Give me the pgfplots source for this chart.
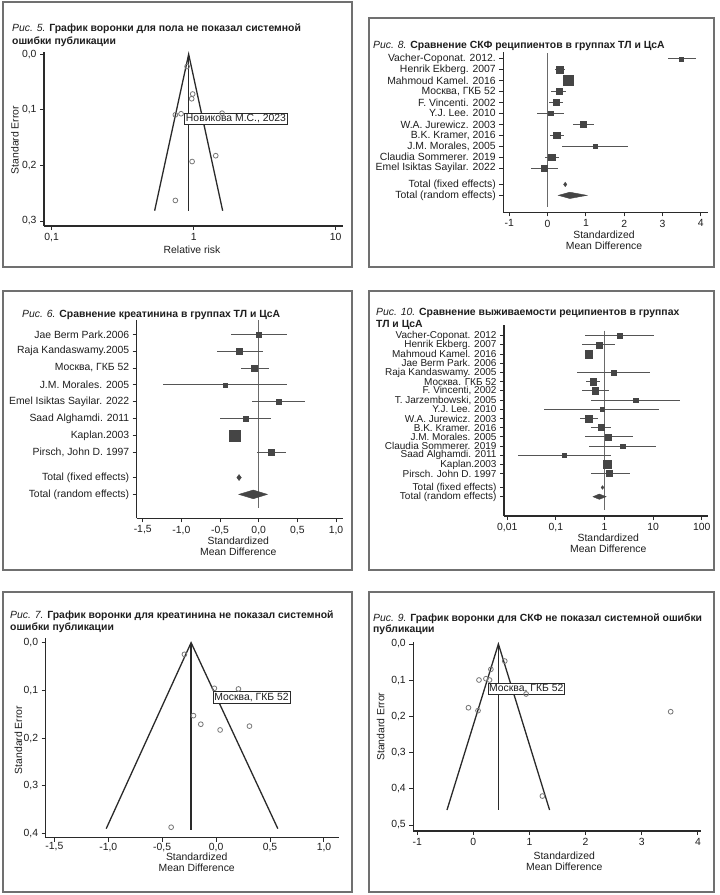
\documentclass[border=0pt]{standalone}
\usepackage{fontspec}
\setmainfont{Liberation Sans}
\usepackage{pgfplots}
\usepackage{pgfplotstable}
\pgfplotsset{compat=1.18}

\definecolor{tx}{HTML}{1E1E1E}
\definecolor{ax}{HTML}{2A2A2A}
\definecolor{boxc}{HTML}{707070}
\definecolor{sq}{HTML}{454545}
\definecolor{cic}{HTML}{555555}
\definecolor{refc}{HTML}{6A6A6A}
\definecolor{ptc}{HTML}{777777}

\newcommand\fs{\fontsize{10.4}{11}\selectfont}
\newcommand\sfs{\fontsize{10}{11}\selectfont}
\newcommand\tfs{\fontsize{10.4}{12.5}\selectfont}

% forest plots: row, estimate, CI low, CI high, half side of square
\pgfplotstableread{
r m lo hi s
1 3.50 3.15 3.87 2.0
2 0.32 0.19 0.45 3.4
3 0.54 0.42 0.66 5.0
4 0.29 0.10 0.48 3.0
5 0.22 0.03 0.40 3.0
6 0.08 -0.29 0.43 2.3
7 0.94 0.67 1.22 3.0
8 0.23 0.06 0.43 3.4
9 1.24 0.38 2.10 1.8
10 0.11 -0.07 0.30 3.2
11 -0.09 -0.43 0.27 3.0
}\skf

\pgfplotstableread{
r m lo hi s
1 0.00 -0.36 0.363 2.6
2 -0.25 -0.543 0.06 2.8
3 -0.055 -0.232 0.13 3.0
4 -0.431 -1.233 0.363 2.0
5 0.26 -0.085 0.60 2.3
6 -0.168 -0.50 0.156 2.3
7 -0.315 -0.34 -0.29 5.5
8 0.16 -0.025 0.354 3.0
}\kreat

\pgfplotstableread{
r m lo hi s
1 2.04 0.39 10.3 2.3
2 0.76 0.345 1.63 3.0
3 0.47 0.39 0.57 3.8
5 1.55 0.27 8.8 2.3
6 0.58 0.42 0.81 3.3
7 0.64 0.34 1.23 3.3
8 4.35 0.53 36.6 2.3
9 0.89 0.058 13.1 1.8
10 0.476 0.32 0.73 3.5
11 0.85 0.53 1.37 3.0
12 1.19 0.39 3.88 3.0
13 2.38 0.49 11.7 2.3
14 0.146 0.0166 1.37 2.0
15 1.13 1.05 1.21 3.8
16 1.27 0.52 3.3 3.0
}\surv

% funnel plots: effect, standard error
\pgfplotstableread{
x se
0.899 0.022
0.984 0.0715
0.968 0.080
0.743 0.109
0.815 0.107
1.585 0.106
1.43 0.1825
0.975 0.193
0.743 0.263
}\fsex

\pgfplotstableread{
x se
-0.294 0.0244
-0.016 0.0957
0.207 0.097
-0.21 0.153
-0.142 0.171
0.037 0.183
0.309 0.175
-0.417 0.387
}\fkreat

\pgfplotstableread{
x se
0.559 0.047
0.312 0.0699
0.100 0.0994
0.224 0.0958
0.288 0.0994
0.94 0.138
-0.088 0.176
0.083 0.184
3.515 0.187
1.229 0.42
}\fskf

\pgfplotsset{
  panel/.style={scale only axis, anchor=south west,
    axis x line*=bottom, axis y line*=left,
    tick align=outside, major tick length=4pt,
    xminorticks=false, yminorticks=false,
    axis line style={ax, line width=1.3pt},
    tick style={ax, line width=1pt},
    ticklabel style={font=\fs, text=tx},
    clip=false},
  fplot/.style={only marks, mark=square*, scatter,
    visualization depends on={\thisrow{s}\as\ms},
    scatter/use mapped color={draw=sq, fill=sq},
    scatter/@pre marker code/.append style={/tikz/mark size=\ms},
    error bars/.cd, x dir=both, x explicit, error mark=none,
    error bar style={cic, line width=1pt, solid}},
  funnel/.style={ax, line width=1.3pt, mark=none},
  dots/.style={only marks, mark=o, mark size=2.4pt, ptc, mark options={line width=0.8pt}},
}
\tikzset{lbl/.style={draw=ax, fill=white, line width=0.6pt, inner sep=1.3pt, font=\fs, text=tx},
  ttl/.style={anchor=base west, font=\tfs, text=tx, inner sep=0pt},
  alab/.style={font=\fs, text=tx, align=center}}
\newcommand\figcap[2]{{\itshape #1} {\bfseries #2}}

\begin{document}
\begin{tikzpicture}[x=1pt, y=1pt]
\path[use as bounding box] (0,0) rectangle (720,-895);
\fill[white] (0,0) rectangle (720,-895);

% frames
\begin{scope}[draw=boxc, line width=1.2pt]
\draw (3,-2) rectangle (352,-267);
\draw (369,-18) rectangle (714,-267);
\draw (3,-291) rectangle (352,-570);
\draw (369,-291) rectangle (714,-570);
\draw (3,-592) rectangle (352,-892);
\draw (369,-592) rectangle (714,-892);
\end{scope}

% ---------- Рис. 5 ----------
\node[ttl] at (12,-31.5) {\figcap{Рис. 5.}{График воронки для пола не показал системной}};
\node[ttl] at (12,-44.5) {\bfseries ошибки публикации};
\begin{axis}[panel, at={(44pt,-226pt)}, width=299pt, height=174pt,
  xmode=log, xmin=0.0883, xmax=11.26, ymin=-0.309, ymax=0.0041,
  xtick={0.1,1,10}, xticklabels={{0,1},1,10},
  ytick={-0.3,-0.2,-0.1,0}, yticklabels={{0,3},{0,2},{0,1},{0,0}}]
\addplot[funnel] coordinates {(0.531,-0.2815) (0.922,0) (1.6,-0.2815)};
\addplot[funnel] coordinates {(0.922,0) (0.922,-0.2815)};
\addplot[dots] table[x=x, y expr=-\thisrow{se}] \fsex;
\node[lbl, anchor=west] at (axis cs:0.86,-0.1165) {Новикова М.С., 2023};
\end{axis}
\node[alab] at (192,-250) {Relative risk};
\node[alab, rotate=90] at (15,-140) {Standard Error};

% ---------- Рис. 8 ----------
\node[ttl] at (373,-48.5) {\figcap{Рис. 8.}{Сравнение СКФ реципиентов в группах ТЛ и ЦсА}};
\begin{axis}[panel, at={(503.3pt,-212.3pt)}, width=204.4pt, height=160.6pt,
  xmin=-1.157, xmax=4.18, ymin=-15.05, ymax=-0.36,
  xtick={-1,0,1,2,3,4}, xticklabels={-1,0,1,2,3,4},
  ytick={-1,-2,-3,-4,-5,-6,-7,-8,-9,-10,-11,-12.5,-13.5},
  yticklabels={{Vacher-Coponat. 2012.},{Henrik Ekberg. 2007},{Mahmoud Kamel. 2016},{Москва, ГКБ 52},{F. Vincenti. 2002},{Y.J. Lee. 2010},{W.A. Jurewicz. 2003},{B.K. Kramer, 2016},{J.M. Morales, 2005},{Claudia Sommerer. 2019},{Emel Isiktas Sayilar. 2022},{Total (fixed effects)},{Total (random effects)}}]
\addplot[refc, line width=1.2pt] coordinates {(0,-0.48) (0,-14.57)};
\addplot[fplot] table[x=m, y expr=-\thisrow{r}, x error plus expr=\thisrow{hi}-\thisrow{m}, x error minus expr=\thisrow{m}-\thisrow{lo}] \skf;
\addplot[only marks, mark=diamond*, mark size=2.2pt, sq] coordinates {(0.46,-12.5)};
\addplot[fill=sq, draw=sq] coordinates {(0.28,-13.5) (0.58,-13.21) (1.03,-13.5) (0.58,-13.79)} -- cycle;
\end{axis}
\node[alab] at (604,-240.5) {Standardized\\Mean Difference};

% ---------- Рис. 6 ----------
\node[ttl] at (22,-317) {\figcap{Рис. 6.}{Сравнение креатинина в группах ТЛ и ЦсА}};
\begin{axis}[panel, at={(136.7pt,-518.3pt)}, width=206.6pt, height=198.3pt,
  xmin=-1.578, xmax=1.094, ymin=-11.92, ymax=-0.15,
  xtick={-1.5,-1,-0.5,0,0.5,1}, xticklabels={{-1,5},{-1,0},{-0,5},{0,0},{0,5},{1,0}},
  ytick={-1,-2,-3,-4,-5,-6,-7,-8,-9.5,-10.5},
  yticklabels={{Jae Berm Park.2006},{Raja Kandaswamy.2005},{Москва, ГКБ 52},{J.M. Morales. 2005},{Emel Isiktas Sayilar. 2022},{Saad Alghamdi. 2011},{Kaplan.2003},{Pirsch, John D. 1997},{Total (fixed effects)},{Total (random effects)}}]
\addplot[refc, line width=1.2pt] coordinates {(0,-0.15) (0,-11.31)};
\addplot[fplot] table[x=m, y expr=-\thisrow{r}, x error plus expr=\thisrow{hi}-\thisrow{m}, x error minus expr=\thisrow{m}-\thisrow{lo}] \kreat;
\addplot[only marks, mark=diamond*, mark size=3pt, sq] coordinates {(-0.254,-9.5)};
\addplot[fill=sq, draw=sq] coordinates {(-0.258,-10.5) (-0.07,-10.24) (0.112,-10.5) (-0.07,-10.76)} -- cycle;
\end{axis}
\node[alab] at (238.3,-546.5) {Standardized\\Mean Difference};

% ---------- Рис. 10 ----------
\node[ttl] at (376,-315) {\figcap{Рис. 10.}{Сравнение выживаемости реципиентов в группах}};
\node[ttl] at (376,-327) {\bfseries ТЛ и ЦсА};
\begin{axis}[panel, at={(504pt,-516pt)}, width=204.3pt, height=191pt,
  xmode=log, xmin=0.00855, xmax=136.7, ymin=-20.6, ymax=0.16,
  yticklabel style={font=\sfs},
  xtick={0.01,0.1,1,10,100}, xticklabels={{0,01},{0,1},1,10,100},
  ytick={-1,-2,-3,-4,-5,-6,-7,-8,-9,-10,-11,-12,-13,-14,-15,-16,-17.5,-18.5},
  yticklabels={{Vacher-Coponat. 2012},{Henrik Ekberg. 2007},{Mahmoud Kamel. 2016},{Jae Berm Park. 2006},{Raja Kandaswamy. 2005},{Москва. ГКБ 52},{F. Vincenti, 2002},{T. Jarzembowski, 2005},{Y.J. Lee. 2010},{W.A. Jurewicz. 2003},{B.K. Kramer. 2016},{J.M. Morales. 2005},{Claudia Sommerer. 2019},{Saad Alghamdi. 2011},{Kaplan.2003},{Pirsch. John D. 1997},{Total (fixed effects)},{Total (random effects)}}]
\addplot[refc, line width=1.2pt] coordinates {(1,-0.46) (1,-19.95)};
\addplot[fplot] table[x=m, y expr=-\thisrow{r}, x error plus expr=\thisrow{hi}-\thisrow{m}, x error minus expr=\thisrow{m}-\thisrow{lo}] \surv;
\addplot[only marks, mark=diamond*, mark size=1.8pt, sq] coordinates {(0.91,-17.5)};
\addplot[fill=sq, draw=sq] coordinates {(0.58,-18.5) (0.78,-18.21) (1.08,-18.5) (0.78,-18.79)} -- cycle;
\end{axis}
\node[alab] at (608.3,-543.2) {Standardized\\Mean Difference};

% ---------- Рис. 7 ----------
\node[ttl] at (10,-618) {\figcap{Рис. 7.}{График воронки для креатинина не показал системной}};
\node[ttl] at (10,-630) {\bfseries ошибки публикации};
\begin{axis}[panel, at={(45.7pt,-837.7pt)}, width=293.6pt, height=199.4pt,
  xmin=-1.58, xmax=1.142, ymin=-0.409, ymax=0.0092,
  xtick={-1.5,-1,-0.5,0,0.5,1}, xticklabels={{-1,5},{-1,0},{-0,5},{0,0},{0,5},{1,0}},
  xticklabel style={yshift=2.5pt},
  ytick={-0.4,-0.3,-0.2,-0.1,0}, yticklabels={{0,4},{0,3},{0,2},{0,1},{0,0}}]
\addplot[funnel] coordinates {(-1.019,-0.39) (-0.232,0) (0.572,-0.39)};
\addplot[funnel] coordinates {(-0.232,0) (-0.232,-0.392)};
\addplot[dots] table[x=x, y expr=-\thisrow{se}] \fkreat;
\node[lbl, anchor=west] at (axis cs:-0.031,-0.1146) {Москва, ГКБ 52};
\end{axis}
\node[alab] at (196.7,-862) {Standardized\\Mean Difference};
\node[alab, rotate=90] at (18.3,-740) {Standard Error};

% ---------- Рис. 9 ----------
\node[ttl] at (373,-621) {\figcap{Рис. 9.}{График воронки для СКФ не показал системной ошибки}};
\node[ttl] at (373,-632.5) {\bfseries публикации};
\begin{axis}[panel, at={(413.3pt,-831pt)}, width=287.4pt, height=189.3pt,
  xmin=-1.07, xmax=4.05, ymin=-0.5166, ymax=0.0064,
  xtick={-1,0,1,2,3,4}, xticklabels={-1,0,1,2,3,4},
  ytick={-0.5,-0.4,-0.3,-0.2,-0.1,0}, yticklabels={{0,5},{0,4},{0,3},{0,2},{0,1},{0,0}}]
\addplot[funnel] coordinates {(-0.47,-0.4586) (0.446,0) (1.358,-0.4586)};
\addplot[funnel] coordinates {(0.446,0) (0.446,-0.4586)};
\addplot[dots] table[x=x, y expr=-\thisrow{se}] \fskf;
\node[lbl, anchor=west] at (axis cs:0.252,-0.1243) {Москва, ГКБ 52};
\end{axis}
\node[alab] at (564.3,-861.3) {Standardized\\Mean Difference};
\node[alab, rotate=90] at (380.7,-726.7) {Standard Error};
\end{tikzpicture}
\end{document}
